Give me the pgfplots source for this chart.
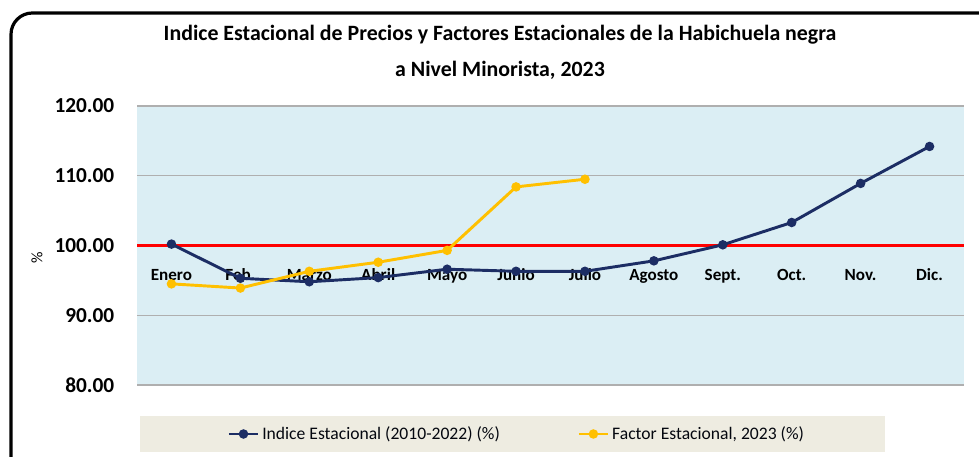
\documentclass[border=0pt]{standalone}
\usepackage{pgfplots}
\pgfplotsset{compat=1.18}
\usepackage{fontspec}
\setmainfont{Carlito}
\definecolor{navy}{RGB}{28,45,100}
\definecolor{gold}{RGB}{255,192,0}
\definecolor{bgblue}{RGB}{219,238,244}
\definecolor{legbg}{RGB}{238,236,225}
\definecolor{gridgray}{RGB}{175,175,175}
\begin{document}
\begin{tikzpicture}
\path (0,0) rectangle (734.25pt,342.75pt);
\fill[legbg] (105pt,3.75pt) rectangle (663.75pt,30.75pt);
\draw[overlay, line width=2.4pt, rounded corners=16pt] (8.25pt,-30pt) rectangle (750pt,333pt);
\node[font=\fontsize{16.4}{19}\selectfont\bfseries] at (375pt,317pt) {Indice Estacional de Precios y Factores Estacionales de la Habichuela negra};
\node[font=\fontsize{16.4}{19}\selectfont\bfseries] at (375pt,290pt) {a Nivel Minorista, 2023};
\node[rotate=90, font=\fontsize{12}{14}\selectfont] at (27.75pt,149.25pt) {\%};
\begin{axis}[
  at={(102.75pt,54pt)}, anchor=south west,
  scale only axis, width=620.25pt, height=209.25pt,
  set layers,
  xmin=-0.5, xmax=11.5, ymin=80, ymax=120,
  axis background/.style={fill=bgblue},
  axis line style={draw=none},
  ymajorgrids, grid style={gridgray, line width=1pt},
  major tick length=0pt,
  xtick={0,...,11},
  xticklabels={Enero,Feb.,Marzo,Abril,Mayo,Junio,Julio,Agosto,Sept.,Oct.,Nov.,Dic.},
  xticklabel style={anchor=base, yshift=78pt, font=\fontsize{12.8}{14}\selectfont\bfseries},
  ytick={80,90,100,110,120},
  yticklabels={80.00,90.00,100.00,110.00,120.00},
  yticklabel style={font=\fontsize{16}{18}\selectfont\bfseries, xshift=-13.5pt},
  legend columns=2,
  legend style={at={(0.4595,-0.1756)}, anchor=center, draw=none, fill=none,
    font=\fontsize{13.2}{15}\selectfont, text=black!85!navy,
    /tikz/every even column/.append style={column sep=56pt}},
  legend image code/.code={\draw[mark repeat=2,mark phase=2,#1] plot coordinates {(0pt,0pt)(11pt,0pt)(22pt,0pt)};},
]
\addplot[red, line width=2pt, forget plot] coordinates {(-0.5,100) (11.5,100)};
\addplot[navy, line width=2.2pt, mark=*, mark size=2.4pt] coordinates {
(0,100.2) (1,95.3) (2,94.8) (3,95.4) (4,96.6) (5,96.3) (6,96.3) (7,97.8) (8,100.1) (9,103.3) (10,108.9) (11,114.2)};
\addlegendentry{Indice Estacional (2010-2022) (\%)}
\addplot[gold, line width=2.2pt, mark=*, mark size=2.4pt] coordinates {
(0,94.5) (1,93.9) (2,96.3) (3,97.6) (4,99.3) (5,108.4) (6,109.5)};
\addlegendentry{Factor Estacional, 2023 (\%)}
\end{axis}
\end{tikzpicture}
\end{document}
